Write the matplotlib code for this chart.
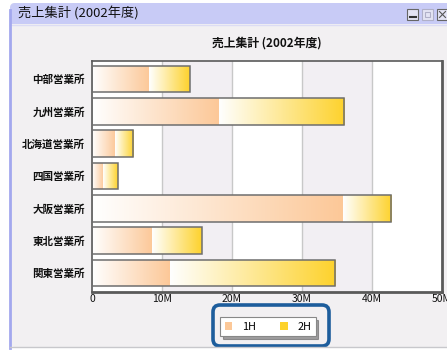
import numpy as np
import matplotlib
matplotlib.use("Agg")
import matplotlib.pyplot as plt
from matplotlib.patches import Rectangle, FancyBboxPatch, Patch
from matplotlib.colors import LinearSegmentedColormap

plt.rcParams['font.family'] = ['Noto Sans CJK JP', 'DejaVu Sans']

# ---- data (values in millions) ----
categories = ['中部営業所', '九州営業所', '北海道営業所', '四国営業所', '大阪営業所', '東北営業所', '関東営業所']
h1_values = [8.2, 18.1, 3.3, 1.6, 35.9, 8.6, 11.1]
h2_values = [5.75, 17.9, 2.6, 2.1, 6.9, 7.1, 23.7]
series_names = ['1H', '2H']
x_ticks = [0, 10, 20, 30, 40, 50]
x_tick_labels = ['0', '10M', '20M', '30M', '40M', '50M']
chart_title = '売上集計 (2002年度)'
window_title = '売上集計 (2002年度)'

W, H = 447, 351
fig = plt.figure(figsize=(W / 100, H / 100), dpi=100)
fig.patch.set_facecolor('white')

def fx(px):
    return px / W

def fy(py):
    return 1 - py / H

# ---- window decoration (background axes in pixel coords) ----
bg = fig.add_axes([0, 0, 1, 1], zorder=0)
bg.set_xlim(0, W)
bg.set_ylim(H, 0)
bg.axis('off')
bg.add_patch(FancyBboxPatch((10, 3), 460, 344, boxstyle='round,pad=0,rounding_size=5',
                            fc='#f2f0f2', ec='none'))
bg.add_patch(FancyBboxPatch((10, 3), 460, 21, boxstyle='round,pad=0,rounding_size=5',
                            fc='#c8cbf6', ec='none'))
bg.add_patch(Rectangle((10, 20), 460, 4, fc='#c8cbf6', ec='none'))
bg.plot([10, 447], [24.5, 24.5], color='#dcdcf4', lw=1)
bg.plot([10, 10], [10, 348], color='#a3a8ee', lw=2)
bg.plot([10, 447], [347, 347], color='#c8c8cc', lw=1)
bg.text(18, 14, window_title, fontsize=9.5, va='center', ha='left', color='#111111')
# window control buttons
for x0, ec in [(407, '#666666'), (422, '#b0b0c8'), (437, '#666666')]:
    bg.add_patch(Rectangle((x0, 9), 11, 11, fc='#e4e4f4', ec=ec, lw=0.8))
bg.plot([409.5, 415.5], [17, 17], color='#333333', lw=1.5)
bg.add_patch(Rectangle((425, 12), 5, 5, fc='none', ec='#b0b0c8', lw=0.8))
bg.plot([439.5, 445.5], [11.5, 17.5], color='#555555', lw=0.8)
bg.plot([439.5, 445.5], [17.5, 11.5], color='#555555', lw=0.8)
bg.text(267, 43, chart_title, fontsize=8.5, fontweight='bold', ha='center', va='center',
        color='#111111')
# highlight rounded box around the legend
bg.add_patch(FancyBboxPatch((213, 305), 116, 41, boxstyle='round,pad=0,rounding_size=7',
                            fc='none', ec='#1d5d9c', lw=2.6))

# ---- chart axes ----
ax = fig.add_axes([fx(92), fy(291.5), fx(441.5 - 92), (291.5 - 60.5) / H], zorder=1)
ax.set_facecolor('white')

y = np.arange(len(categories))
bar_h = 0.83

# alternating vertical bands
for i in range(len(x_ticks) - 1):
    if i % 2 == 1:
        ax.axvspan(x_ticks[i], x_ticks[i + 1], color='#f2eff3', zorder=0, lw=0)
for t in x_ticks[1:-1]:
    ax.axvline(t, color='#c8c8c8', lw=1, zorder=0.5)

def grad_cmap(c):
    return LinearSegmentedColormap.from_list('g', ['#ffffff', c])

colors = ['#fcc898', '#fdd22c']
grad = np.linspace(0, 1, 256).reshape(1, -1)

b1 = ax.barh(y, h1_values, height=bar_h, color='none', edgecolor='none', zorder=2)
b2 = ax.barh(y, h2_values, left=h1_values, height=bar_h, color='none', edgecolor='none', zorder=2)
for bars, c in [(b1, colors[0]), (b2, colors[1])]:
    cm = grad_cmap(c)
    for r in bars:
        x0, y0 = r.get_x(), r.get_y()
        w, hh = r.get_width(), r.get_height()
        im = ax.imshow(grad, cmap=cm, extent=[x0, x0 + w, y0, y0 + hh], aspect='auto',
                       zorder=2, interpolation='bilinear')
        im.set_clip_path(r)

totals = [a + b for a, b in zip(h1_values, h2_values)]
ax.barh(y, totals, height=bar_h, color='none', edgecolor='#6e6e6e', lw=1.1, zorder=3)

ax.set_xlim(x_ticks[0], x_ticks[-1])
ax.set_ylim(len(categories) - 1 + 0.57, -0.57)
ax.set_yticks(y)
ax.set_yticklabels(categories, fontsize=7.6, fontweight='bold', color='#111111')
ax.set_xticks(x_ticks)
ax.set_xticklabels(x_tick_labels, fontsize=7.5, color='#111111')
ax.tick_params(axis='both', length=0)
ax.tick_params(axis='y', pad=5)
ax.tick_params(axis='x', pad=2)
for s in ax.spines.values():
    s.set_color('#5a5a5a')
    s.set_linewidth(1.2)
ax.spines['bottom'].set_linewidth(2)
ax.spines['right'].set_linewidth(2)

handles = [Patch(facecolor=colors[0], edgecolor='none'), Patch(facecolor=colors[1], edgecolor='none')]
leg = fig.legend(handles, series_names, loc='center', bbox_to_anchor=(fx(268), fy(326.5)),
                 ncol=2, fontsize=7.8, frameon=True, fancybox=False, shadow=True,
                 handlelength=0.7, handleheight=0.7, handletextpad=0.9, columnspacing=2.2,
                 borderpad=0.4)
leg.get_frame().set_edgecolor('#888888')
leg.get_frame().set_linewidth(0.8)
leg.set_zorder(5)

fig.savefig('out.png', dpi=100, facecolor=fig.get_facecolor())
